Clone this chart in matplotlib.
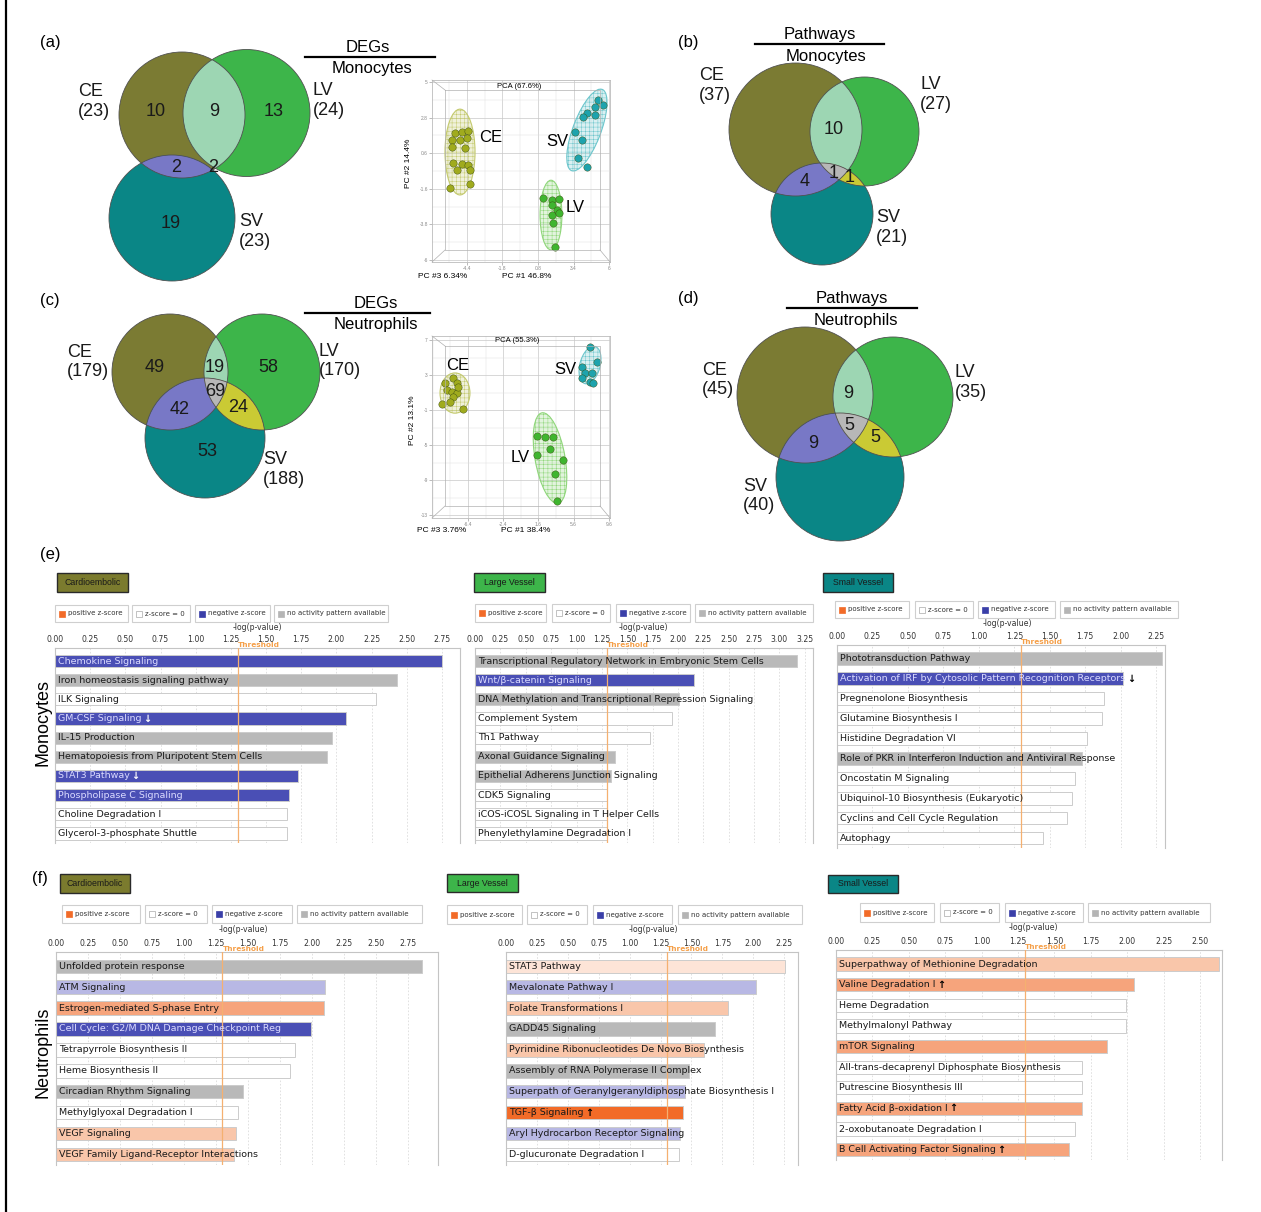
import numpy as np
import matplotlib.pyplot as plt
from matplotlib.patches import Rectangle, Ellipse, Polygon, Circle
from matplotlib.ticker import AutoMinorLocator
import matplotlib.transforms as mtransforms

plt.rcParams['font.family'] = ['Liberation Sans', 'DejaVu Sans']
plt.rcParams['hatch.linewidth'] = 0.35

W, H = 1261, 1212

# ============================================================
# DATA
# ============================================================

set_names = ["CE", "LV", "SV"]

venn_a_totals = [23, 24, 23]
venn_a_regions = ["CE", "CE&LV", "LV", "CE&SV", "LV&SV", "SV"]
venn_a_counts = [10, 9, 13, 2, 2, 19]

venn_b_totals = [37, 27, 21]
venn_b_regions = ["CE&LV", "CE&SV", "CE&LV&SV", "LV&SV"]
venn_b_counts = [10, 4, 1, 1]

venn_c_totals = [179, 170, 188]
venn_c_regions = ["CE", "CE&LV", "LV", "CE&LV&SV", "CE&SV", "LV&SV", "SV"]
venn_c_counts = [49, 19, 58, 69, 42, 24, 53]

venn_d_totals = [45, 35, 40]
venn_d_regions = ["CE&LV", "CE&LV&SV", "CE&SV", "LV&SV"]
venn_d_counts = [9, 5, 9, 5]

# PCA, monocytes
pca_mono_title = "PCA (67.6%)"
pca_mono_labels = ["PC #1 46.8%", "PC #2 14.4%", "PC #3 6.34%"]
pca_mono_xticks = [-4.4, -1.8, 0.8, 3.4, 6]
pca_mono_yticks = [5, 2.8, 0.6, -1.6, -3.8, -6]
pca_mono_ce_x = [-5.28, -4.77, -4.33, -5.50, -4.91, -4.40, -5.50, -4.55, -5.42, -4.77, -4.33, -5.13, -4.18, -5.64, -4.18]
pca_mono_ce_y = [1.85, 1.91, 1.97, 1.42, 1.42, 1.54, 0.98, 0.92, -0.01, -0.07, -0.13, -0.44, -0.44, -1.55, -1.30]
pca_mono_lv_x = [1.16, 1.82, 2.33, 1.82, 2.19, 1.82, 2.33, 1.90, 2.04]
pca_mono_lv_y = [-2.17, -2.29, -2.23, -2.60, -2.91, -3.22, -3.10, -3.71, -5.20]
pca_mono_sv_x = [5.56, 4.97, 4.38, 4.97, 4.09, 3.51, 4.02, 3.73, 4.38, 5.19]
pca_mono_sv_y = [3.58, 3.46, 3.08, 2.96, 2.84, 1.91, 1.42, 0.30, -0.25, 3.89]
pca_mono_ellipses = [(-4.91, 0.67, 2.2, 5.3, 0), (1.75, -3.22, 1.6, 4.3, 0), (4.38, 2.03, 2.0, 5.5, -25)]

# PCA, neutrophils
pca_neut_title = "PCA (55.3%)"
pca_neut_labels = ["PC #1 38.4%", "PC #2 13.1%", "PC #3 3.76%"]
pca_neut_xticks = [-6.4, -2.4, 1.6, 5.6, 9.6]
pca_neut_yticks = [7, 3, -1, -5, -9, -13]
pca_neut_ce_x = [-9.01, -8.10, -7.65, -8.78, -8.22, -7.65, -8.10, -9.35, -8.44, -6.97, -7.54]
pca_neut_ce_y = [2.09, 2.66, 2.09, 1.29, 1.06, 0.94, 0.49, -0.32, -0.09, -0.89, 1.63]
pca_neut_lv_x = [1.43, 2.34, 3.25, 2.91, 1.43, 4.38, 3.47, 3.70]
pca_neut_lv_y = [-3.97, -4.09, -4.09, -5.46, -6.14, -6.72, -8.32, -11.40]
pca_neut_sv_x = [7.45, 8.24, 6.54, 6.88, 7.67, 6.54, 7.45, 7.79]
pca_neut_sv_y = [6.20, 4.49, 3.91, 3.23, 3.23, 2.66, 2.20, 2.09]
pca_neut_ellipses = [(-7.88, 0.94, 3.4, 4.6, 0), (2.91, -6.49, 3.4, 10.5, 10), (7.45, 4.14, 2.3, 4.4, -15)]

# IPA canonical pathways, monocytes
mono_ce_names = ["Chemokine Signaling", "Iron homeostasis signaling pathway", "ILK Signaling",
                 "GM-CSF Signaling", "IL-15 Production", "Hematopoiesis from Pluripotent Stem Cells",
                 "STAT3 Pathway", "Phospholipase C Signaling", "Choline Degradation I",
                 "Glycerol-3-phosphate Shuttle"]
mono_ce_values = [2.75, 2.43, 2.28, 2.07, 1.97, 1.93, 1.73, 1.66, 1.65, 1.65]
mono_ce_colors = ["B", "G", "W", "B", "G", "G", "B", "B", "W", "W"]
mono_ce_arrows = ["", "", "", "↓", "", "", "↓", "", "", ""]

mono_lv_names = ["Transcriptional Regulatory Network in Embryonic Stem Cells", "Wnt/β-catenin Signaling",
                 "DNA Methylation and Transcriptional Repression Signaling", "Complement System",
                 "Th1 Pathway", "Axonal Guidance Signaling", "Epithelial Adherens Junction Signaling",
                 "CDK5 Signaling", "iCOS-iCOSL Signaling in T Helper Cells", "Phenylethylamine Degradation I"]
mono_lv_values = [3.17, 2.16, 2.01, 1.94, 1.72, 1.38, 1.34, 1.30, 1.30, 1.30]
mono_lv_colors = ["G", "B", "G", "W", "W", "G", "G", "W", "W", "W"]
mono_lv_arrows = [""] * 10

mono_sv_names = ["Phototransduction Pathway", "Activation of IRF by Cytosolic Pattern Recognition Receptors",
                 "Pregnenolone Biosynthesis", "Glutamine Biosynthesis I", "Histidine Degradation VI",
                 "Role of PKR in Interferon Induction and Antiviral Response", "Oncostatin M Signaling",
                 "Ubiquinol-10 Biosynthesis (Eukaryotic)", "Cyclins and Cell Cycle Regulation", "Autophagy"]
mono_sv_values = [2.29, 2.02, 1.88, 1.87, 1.76, 1.73, 1.68, 1.66, 1.62, 1.45]
mono_sv_colors = ["G", "B", "W", "W", "W", "G", "W", "W", "W", "W"]
mono_sv_arrows = ["", "↓", "", "", "", "", "", "", "", ""]

# IPA canonical pathways, neutrophils
neut_ce_names = ["Unfolded protein response", "ATM Signaling", "Estrogen-mediated S-phase Entry",
                 "Cell Cycle: G2/M DNA Damage Checkpoint Reg", "Tetrapyrrole Biosynthesis II",
                 "Heme Biosynthesis II", "Circadian Rhythm Signaling", "Methylglyoxal Degradation I",
                 "VEGF Signaling", "VEGF Family Ligand-Receptor Interactions"]
neut_ce_values = [2.86, 2.10, 2.09, 1.99, 1.87, 1.83, 1.46, 1.42, 1.41, 1.39]
neut_ce_colors = ["G", "LB", "OM", "B", "W", "W", "G", "W", "OL", "OL"]
neut_ce_arrows = [""] * 10

neut_lv_names = ["STAT3 Pathway", "Mevalonate Pathway I", "Folate Transformations I", "GADD45 Signaling",
                 "Pyrimidine Ribonucleotides De Novo Biosynthesis", "Assembly of RNA Polymerase II Complex",
                 "Superpath of Geranylgeranyldiphosphate Biosynthesis I", "TGF-β Signaling",
                 "Aryl Hydrocarbon Receptor Signaling", "D-glucuronate Degradation I"]
neut_lv_values = [2.26, 2.02, 1.80, 1.69, 1.60, 1.48, 1.45, 1.43, 1.41, 1.40]
neut_lv_colors = ["OV", "LB", "OL", "G", "OL", "G", "LB", "O", "LB", "W"]
neut_lv_arrows = ["", "", "", "", "", "", "", "↑", "", ""]

neut_sv_names = ["Superpathway of Methionine Degradation", "Valine Degradation I", "Heme Degradation",
                 "Methylmalonyl Pathway", "mTOR Signaling", "All-trans-decaprenyl Diphosphate Biosynthesis",
                 "Putrescine Biosynthesis III", "Fatty Acid β-oxidation I", "2-oxobutanoate Degradation I",
                 "B Cell Activating Factor Signaling"]
neut_sv_values = [2.63, 2.05, 1.99, 1.99, 1.86, 1.69, 1.69, 1.69, 1.64, 1.60]
neut_sv_colors = ["OL", "OM", "W", "W", "OM", "W", "W", "OM", "W", "OM"]
neut_sv_arrows = ["", "↑", "", "", "", "", "", "↑", "", "↑"]

threshold = 1.3
legend_labels = ["positive z-score", "z-score = 0", "negative z-score", "no activity pattern available"]
group_names = ["Cardioembolic", "Large Vessel", "Small Vessel"]

# ============================================================
# STYLE
# ============================================================

venn_colors = {"CE": "#7b7b33", "LV": "#3db54a", "SV": "#0a8686",
               "CE&LV": "#9dd6b3", "CE&SV": "#7878c6", "LV&SV": "#caca34", "CE&LV&SV": "#b7b7b7"}
group_colors = ["#7b7b2e", "#3db54a", "#0a8686"]
pca_colors = ["#a0ab1e", "#3fb52f", "#1ea3ad"]
pca_ell_colors = ["#c4ca6e", "#8fd67a", "#6cc6cc"]
bar_palette = {"B": "#4a4fb5", "G": "#b9b9b9", "W": "#ffffff", "LB": "#b8b8e4",
               "O": "#f26b28", "OM": "#f6a47c", "OL": "#f9c6aa", "OV": "#fde4d7"}
legend_swatch = ["#f26b28", "#ffffff", "#3a3fa8", "#b5b5b5"]

fig = plt.figure(figsize=(W / 100, H / 100), dpi=100)


def px_axes(x0, y0, x1, y1, **kw):
    return fig.add_axes([x0 / W, 1 - y1 / H, (x1 - x0) / W, (y1 - y0) / H], **kw)


def disk_intersection(circles, n=720):
    pts = []
    t = np.linspace(0, 2 * np.pi, n, endpoint=False)
    for i, (cx, cy, r) in enumerate(circles):
        p = np.column_stack([cx + r * np.cos(t), cy + r * np.sin(t)])
        ok = np.ones(n, bool)
        for j, (cx2, cy2, r2) in enumerate(circles):
            if j != i:
                ok &= (p[:, 0] - cx2) ** 2 + (p[:, 1] - cy2) ** 2 <= r2 ** 2
        pts.append(p[ok])
    pts = np.vstack(pts)
    if len(pts) < 3:
        return None
    c = pts.mean(axis=0)
    order = np.argsort(np.arctan2(pts[:, 1] - c[1], pts[:, 0] - c[0]))
    return pts[order]


# ============================================================
# PCA PANELS
# ============================================================

def draw_pca(box, xlim, ylim, xticks, yticks, xs, ys, ells):
    ax = px_axes(*box)
    ax.set_xlim(*xlim)
    ax.set_ylim(*ylim)
    ax.set_xticks(xticks)
    ax.set_yticks(yticks)
    ax.set_xticklabels([f"{v:g}" for v in xticks], fontsize=3.5, color="#555")
    ax.set_yticklabels([f"{v:g}" for v in yticks], fontsize=3.5, color="#555")
    ax.xaxis.set_minor_locator(AutoMinorLocator(2))
    ax.yaxis.set_minor_locator(AutoMinorLocator(2))
    ax.tick_params(length=2, width=0.4, colors="#888", pad=1)
    ax.tick_params(which="minor", length=0)
    ax.grid(True, which="major", color="#c8c8c8", lw=0.5)
    ax.grid(True, which="minor", color="#e0e0e0", lw=0.35)
    ax.set_axisbelow(True)
    for s in ax.spines.values():
        s.set_color("#bbbbbb")
        s.set_linewidth(0.6)
    for (cx, cy, w, h, ang), col in zip(ells, pca_ell_colors):
        ax.add_patch(Ellipse((cx, cy), w, h, angle=ang, fc=col, alpha=0.25, ec="none", zorder=2))
        ax.add_patch(Ellipse((cx, cy), w, h, angle=ang, fc="none", ec=col, lw=0.8, hatch="++++", zorder=2))
    for x, y, col in zip(xs, ys, pca_colors):
        ax.scatter(x, y, s=28, color=col, edgecolors="#3a4a10", linewidths=0.3, zorder=3)
    return ax


draw_pca((432, 80, 610, 262), (-6.96, 6.07), (-6.12, 5.12), pca_mono_xticks, pca_mono_yticks,
         [pca_mono_ce_x, pca_mono_lv_x, pca_mono_sv_x], [pca_mono_ce_y, pca_mono_lv_y, pca_mono_sv_y],
         pca_mono_ellipses)
draw_pca((432, 336, 610, 518), (-10.49, 9.72), (-13.34, 7.46), pca_neut_xticks, pca_neut_yticks,
         [pca_neut_ce_x, pca_neut_lv_x, pca_neut_sv_x], [pca_neut_ce_y, pca_neut_lv_y, pca_neut_sv_y],
         pca_neut_ellipses)


# ============================================================
# BAR PANELS
# ============================================================

def draw_bars(box, ppu, tmax, names, values, colors, arrows, arrow_col):
    x0, y0, x1, y1 = box
    ax = px_axes(x0, y0, x1, y1)
    n = len(names)
    ypos = np.arange(n)
    ax.barh(ypos, values, height=0.64, color=[bar_palette[c] for c in colors],
            edgecolor="#cccccc", linewidth=0.7, zorder=2)
    ax.set_xlim(0, (x1 - x0) / ppu)
    ax.set_ylim(n - 0.5, -0.68)
    ticks = np.arange(0, tmax + 1e-9, 0.25)
    ax.xaxis.tick_top()
    ax.set_xticks(ticks)
    ax.set_xticklabels([f"{t:.2f}" for t in ticks], fontsize=5.6, color="#333",
                       family="DejaVu Sans")
    ax.tick_params(axis="x", length=0, pad=3)
    ax.set_yticks([])
    for t in ticks[1:]:
        ax.axvline(t, color="#dcdcdc", lw=0.6, ls=(0, (2, 2)), zorder=1)
    ax.axvline(threshold, color="#f5b070", lw=0.9, zorder=3)
    trans = mtransforms.blended_transform_factory(ax.transData, ax.transAxes)
    ax.text(threshold, 1 + 3 / (y1 - y0), "Threshold", transform=trans, fontsize=5.3,
            fontweight="bold", color="#f5a04a", va="center", ha="left", family="DejaVu Sans")
    off = 3 / ppu
    for yi, name, c, arr in zip(ypos, names, colors, arrows):
        tc = "#dadaff" if c == "B" else "#1a1a1a"
        txt = ax.text(off, yi, name, fontsize=6.8, color=tc, va="center", ha="left",
                      family="DejaVu Sans", zorder=4)
        if arr:
            ax.annotate(arr, xy=(1, 0.5), xycoords=txt, xytext=(1, 0), textcoords="offset points",
                        fontsize=7, fontweight="bold", color=arrow_col, va="center", ha="left",
                        family="DejaVu Sans", zorder=4)
    for side, s in ax.spines.items():
        s.set_color("#c4c4c4")
        s.set_linewidth(0.8)
    ax.spines["bottom"].set_visible(False)
    return ax


draw_bars((55, 648, 460, 843), 140.7, 2.75, mono_ce_names, mono_ce_values, mono_ce_colors,
          mono_ce_arrows, "white")
draw_bars((475, 648, 813, 843), 101.5, 3.25, mono_lv_names, mono_lv_values, mono_lv_colors,
          mono_lv_arrows, "black")
draw_bars((837, 645, 1165, 848), 141.8, 2.25, mono_sv_names, mono_sv_values, mono_sv_colors,
          mono_sv_arrows, "black")
draw_bars((56, 952, 438, 1165), 128.0, 2.75, neut_ce_names, neut_ce_values, neut_ce_colors,
          neut_ce_arrows, "black")
draw_bars((506, 952, 798, 1165), 123.6, 2.25, neut_lv_names, neut_lv_values, neut_lv_colors,
          neut_lv_arrows, "black")
draw_bars((836, 950, 1222, 1160), 145.6, 2.50, neut_sv_names, neut_sv_values, neut_sv_colors,
          neut_sv_arrows, "black")

# ============================================================
# OVERLAY: VENNS, HEADERS, LEGENDS, LABELS
# ============================================================

ov = fig.add_axes([0, 0, 1, 1], zorder=10)
ov.set_xlim(0, W)
ov.set_ylim(H, 0)
ov.axis("off")

ov.plot([6, 6], [0, H], color="black", lw=1.6)


def draw_venn(circles, regions, counts, count_pos, totals, total_pos):
    for (cx, cy, r), name in zip(circles, set_names):
        ov.add_patch(Circle((cx, cy), r, fc=venn_colors[name], ec="none"))
    for key in ["CE&LV", "CE&SV", "LV&SV", "CE&LV&SV"]:
        idx = [set_names.index(s) for s in key.split("&")]
        poly = disk_intersection([circles[i] for i in idx])
        if poly is not None:
            ov.add_patch(Polygon(poly, closed=True, fc=venn_colors[key], ec="none"))
    for (cx, cy, r) in circles:
        ov.add_patch(Circle((cx, cy), r, fc="none", ec="#505050", lw=0.6))
    for reg, cnt in zip(regions, counts):
        x, y = count_pos[reg]
        ov.text(x, y, str(cnt), fontsize=13, ha="center", va="center", color="#1a1a1a")
    for name, tot in zip(set_names, totals):
        x, y = total_pos[name]
        ov.text(x, y, f"{name}\n({tot})", fontsize=13, ha="left", va="center",
                linespacing=1.2, color="#1a1a1a")


def venn_title(top, bottom, x0, x1, yline, ptop, pbot):
    ov.text(ptop[0], ptop[1], top, fontsize=12, ha="center", va="center")
    ov.plot([x0, x1], [yline, yline], color="black", lw=1.6)
    ov.text(pbot[0], pbot[1], bottom, fontsize=12, ha="center", va="center")


draw_venn([(182, 115, 63), (246.5, 113, 63.5), (172, 218, 63)], venn_a_regions, venn_a_counts,
          {"CE": (156, 111), "CE&LV": (214, 111), "LV": (274, 111), "CE&SV": (176, 167),
           "LV&SV": (213, 168), "SV": (171, 224)},
          venn_a_totals, {"CE": (78, 101.5), "LV": (313, 100.5), "SV": (239, 231.5)})
draw_venn([(795.5, 129.5, 66.5), (864.5, 131.5, 54.5), (822, 214, 51)], venn_b_regions, venn_b_counts,
          {"CE&LV": (834, 130), "CE&SV": (805, 182), "CE&LV&SV": (834, 173), "LV&SV": (850, 178)},
          venn_b_totals, {"CE": (699, 85.5), "LV": (920, 94.5), "SV": (876, 227.5)})
draw_venn([(170, 372, 58), (262, 372, 58), (205, 438, 60)], venn_c_regions, venn_c_counts,
          {"CE": (155, 368), "CE&LV": (215, 368), "LV": (268, 368), "CE&LV&SV": (215, 392),
           "CE&SV": (180, 409), "LV&SV": (238, 408), "SV": (207, 451)},
          venn_c_totals, {"CE": (67, 362), "LV": (319, 361), "SV": (263, 469.5)})
draw_venn([(805, 395, 68), (893, 397, 60), (840, 477, 64)], venn_d_regions, venn_d_counts,
          {"CE&LV": (848, 393), "CE&LV&SV": (849, 425), "CE&SV": (813, 443), "LV&SV": (875, 438)},
          venn_d_totals, {"CE": (702, 380), "LV": (955, 382.5), "SV": (743, 496)})

venn_title("DEGs", "Monocytes", 305, 435, 57, (368, 47), (372, 68))
venn_title("Pathways", "Monocytes", 755, 884, 44, (820, 35), (826, 56))
venn_title("DEGs", "Neutrophils", 305, 430, 313, (376, 304), (376, 325))
venn_title("Pathways", "Neutrophils", 787, 917, 308, (852, 299), (856, 321))

for lab, (x, y) in zip(["(a)", "(b)", "(c)", "(d)", "(e)", "(f)"],
                       [(50, 43), (688, 42), (50, 300), (688, 298), (50, 555), (40, 878)]):
    ov.text(x, y, lab, fontsize=12, ha="center", va="center")

# PCA annotations
for txt, (x, y) in zip(["CE", "SV", "LV"], [(491, 137), (557, 141), (575, 208)]):
    ov.text(x, y, txt, fontsize=12, ha="center", va="center")
for txt, (x, y) in zip(["CE", "SV", "LV"], [(458, 366), (565, 369), (520, 458)]):
    ov.text(x, y, txt, fontsize=12, ha="center", va="center")

for labels, title, tpos, ypos, p3pos, p1pos in [
        (pca_mono_labels, pca_mono_title, (519, 87), (409, 163), (443, 277), (527, 277)),
        (pca_neut_labels, pca_neut_title, (517, 341), (413, 420), (442, 531), (526, 531))]:
    ov.text(*tpos, title, fontsize=5.5, ha="center", va="center")
    ov.text(*ypos, labels[1], fontsize=6, ha="center", va="center", rotation=90)
    ov.text(*p3pos, labels[2], fontsize=6, ha="center", va="center")
    ov.text(*p1pos, labels[0], fontsize=6, ha="center", va="center")

# 3D box hints for the PCA plots
for (fx0, fy0, fx1, fy1), (bx0, by0, bx1, by1) in [((432, 80, 610, 262), (445, 90, 600, 250)),
                                                   ((432, 336, 610, 518), (445, 346, 600, 506))]:
    ov.plot([bx0, bx1, bx1, bx0, bx0], [by0, by0, by1, by1, by0], color="#b0b0b0", lw=0.5)
    ov.plot([fx0, bx0], [fy0, by0], color="#b0b0b0", lw=0.5)
    ov.plot([fx0, bx0], [fy1, by1], color="#b0b0b0", lw=0.5)
    ov.plot([fx1, bx1], [fy1, by1], color="#b0b0b0", lw=0.5)

# row labels
ov.text(43, 722, "Monocytes", fontsize=13, rotation=90, ha="center", va="center")
ov.text(43, 1052, "Neutrophils", fontsize=13, rotation=90, ha="center", va="center")

# group headers
headers = [((57, 573, 128, 592), 0), ((474, 573, 545, 592), 1), ((823, 573, 893, 592), 2),
           ((60, 874, 130, 893), 0), ((447, 874, 518, 892), 1), ((828, 875, 898, 893), 2)]
for (hx0, hy0, hx1, hy1), gi in headers:
    ov.add_patch(Rectangle((hx0, hy0), hx1 - hx0, hy1 - hy0, fc=group_colors[gi], ec="#2a2a2a", lw=1))
    ov.text((hx0 + hx1) / 2, (hy0 + hy1) / 2, group_names[gi], fontsize=6.3, ha="center",
            va="center", color="#1a1a1a")

# legends
legends = [
    ([(55, 128), (132, 190), (195, 270), (274, 388)], (605, 622), (257, 627)),
    ([(475, 546), (552, 610), (616, 690), (695, 813)], (604, 622), (643, 628)),
    ([(835, 909), (915, 973), (978, 1055), (1060, 1178)], (601, 618), (1007, 624)),
    ([(62, 140), (145, 207), (212, 292), (297, 422)], (905, 923), (243, 929)),
    ([(447, 522), (527, 587), (593, 672), (678, 802)], (905, 924), (653, 930)),
    ([(860, 934), (940, 999), (1005, 1083), (1088, 1210)], (903, 922), (1033, 928)),
]
for boxes, (ly0, ly1), (px, py) in legends:
    ym = (ly0 + ly1) / 2
    for (bx0, bx1), lab, sw in zip(boxes, legend_labels, legend_swatch):
        ov.add_patch(Rectangle((bx0, ly0), bx1 - bx0, ly1 - ly0, fc="white", ec="#cfcfcf", lw=0.8))
        ov.add_patch(Rectangle((bx0 + 4, ym - 3), 6, 6, fc=sw,
                               ec="#aaaaaa" if sw == "#ffffff" else sw, lw=0.5))
        ov.text(bx0 + 13, ym, lab, fontsize=5, ha="left", va="center", family="DejaVu Sans",
                color="#333")
    ov.text(px, py, "-log(p-value)", fontsize=5.6, ha="center", va="center",
            family="DejaVu Sans", color="#333")

fig.savefig("out.png", dpi=100)
